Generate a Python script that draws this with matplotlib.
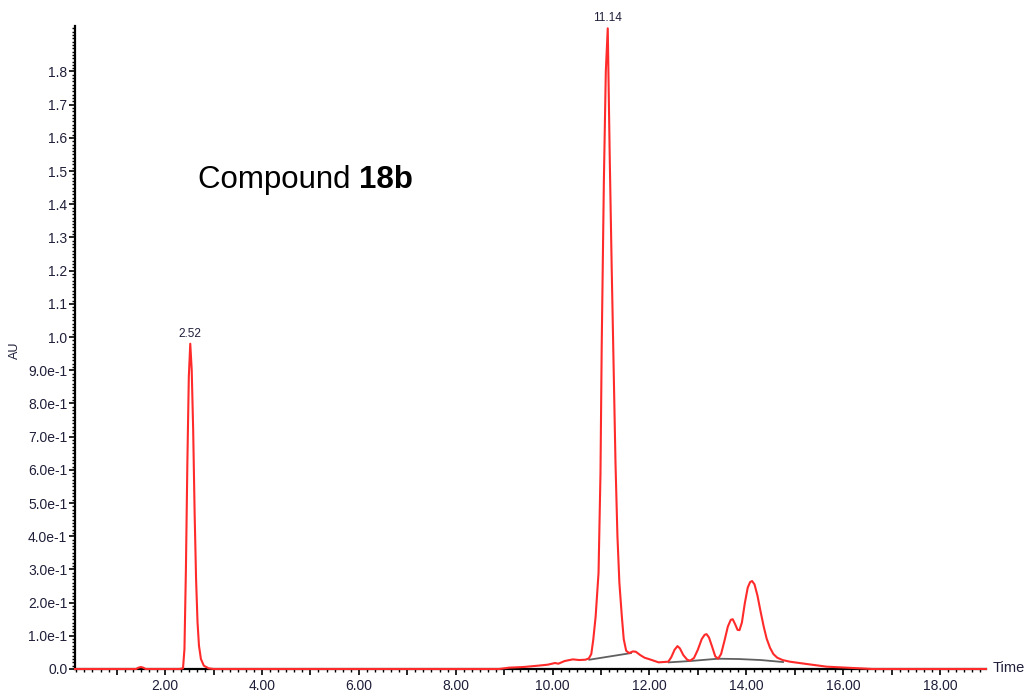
import matplotlib
matplotlib.use("Agg")
import matplotlib.pyplot as plt
from matplotlib.ticker import FixedLocator, MultipleLocator, FuncFormatter
import numpy as np

plt.rcParams['font.family'] = ['Liberation Sans', 'DejaVu Sans']

# chromatogram trace (time in min, absorbance in AU)
temps = [0.14, 1.40, 1.45, 1.50, 1.55, 1.60, 2.30, 2.37, 2.40, 2.43, 2.46, 2.49, 2.52,
         2.55, 2.58, 2.61, 2.64, 2.67, 2.70, 2.74, 2.80, 2.90, 3.00, 8.90, 9.10, 9.40,
         9.70, 9.90, 10.05, 10.12, 10.25, 10.42, 10.55, 10.68, 10.75, 10.80, 10.84, 10.89,
         10.95, 10.99, 11.015, 11.06, 11.10, 11.14, 11.18, 11.22, 11.26, 11.30, 11.34,
         11.38, 11.43, 11.47, 11.52, 11.58, 11.66, 11.72, 11.81, 11.90, 12.01, 12.19,
         12.39, 12.45, 12.52, 12.58, 12.63, 12.70, 12.78, 12.84, 12.92, 13.00, 13.08,
         13.14, 13.18, 13.23, 13.30, 13.36, 13.42, 13.48, 13.55, 13.62, 13.68, 13.72,
         13.77, 13.82, 13.86, 13.91, 13.97, 14.03, 14.08, 14.12, 14.17, 14.23, 14.30,
         14.36, 14.42, 14.49, 14.56, 14.64, 14.75, 14.90, 15.25, 15.66, 16.07, 16.35,
         16.60, 18.95]
absorbance = [0.0, 0.0, 0.004, 0.006, 0.004, 0.0, 0.0, 0.002, 0.06, 0.30, 0.62, 0.88, 0.98,
              0.90, 0.72, 0.47, 0.27, 0.14, 0.07, 0.03, 0.01, 0.002, 0.0, 0.0, 0.004, 0.006,
              0.010, 0.013, 0.018, 0.016, 0.024, 0.029, 0.027, 0.028, 0.032, 0.045, 0.087, 0.158,
              0.29, 0.59, 0.97, 1.47, 1.80, 1.93, 1.55, 1.22, 0.92, 0.62, 0.40,
              0.26, 0.16, 0.09, 0.055, 0.048, 0.053, 0.052, 0.042, 0.034, 0.029, 0.020,
              0.022, 0.035, 0.058, 0.069, 0.062, 0.042, 0.028, 0.025, 0.033, 0.058, 0.090,
              0.103, 0.105, 0.095, 0.065, 0.038, 0.031, 0.045, 0.085, 0.128, 0.148, 0.150,
              0.135, 0.118, 0.117, 0.140, 0.198, 0.245, 0.262, 0.265, 0.255, 0.222, 0.170,
              0.128, 0.092, 0.064, 0.045, 0.034, 0.027, 0.022, 0.015, 0.007, 0.004, 0.002,
              0.0, 0.0]

# integration baselines
base1_t = [10.76, 11.62]
base1_au = [0.028, 0.048]
base2_t = [12.40, 12.84, 13.42, 13.85, 14.30, 14.76]
base2_au = [0.020, 0.024, 0.031, 0.030, 0.027, 0.021]

# labelled peaks
pic_t = [2.52, 11.14]
pic_au = [0.98, 1.93]
pic_txt = ["2.52", "11.14"]

W, H = 1027, 693
fig = plt.figure(figsize=(W / 100, H / 100), dpi=100)
ax = fig.add_axes([75 / W, 1 - 669 / H, (986 - 75) / W, (669 - 26) / H])

ax.plot(base1_t, base1_au, color='#606060', lw=1.3, zorder=2)
ax.plot(base2_t, base2_au, color='#606060', lw=1.3, zorder=2)
ax.plot(temps, absorbance, color='#ff2a2a', lw=1.5, zorder=3, clip_on=False,
        solid_joinstyle='round')

for t, a, s in zip(pic_t, pic_au, pic_txt):
    ax.annotate(s, (t, a), xytext=(0, 3), textcoords='offset points',
                ha='center', va='bottom', fontsize=8.5, color='#1f1f3a')

ax.set_xlim(0.14, 18.95)
ax.set_ylim(0, 1.937)

for cote in ['top', 'right']:
    ax.spines[cote].set_visible(False)
for cote in ['left', 'bottom']:
    ax.spines[cote].set_linewidth(1.6)
    ax.spines[cote].set_color('black')

# x axis: labels every 2 min
ax.xaxis.set_major_locator(MultipleLocator(1))
ax.xaxis.set_minor_locator(MultipleLocator(1 / 6))
ax.xaxis.set_major_formatter(FuncFormatter(lambda v, p: "%.2f" % v if round(v) % 2 == 0 else ""))

# y axis
def format_y(v, p):
    if abs(v) < 1e-9:
        return "0.0"
    if v < 0.95:
        return "%.1fe-1" % (v * 10)
    return "%.1f" % v

ax.yaxis.set_major_locator(FixedLocator(np.round(np.arange(0, 1.85, 0.1), 2)))
ax.yaxis.set_minor_locator(MultipleLocator(0.01))
ax.yaxis.set_major_formatter(FuncFormatter(format_y))

ax.tick_params(axis='both', which='major', direction='out', width=1.2, length=4.5,
               labelsize=10, labelcolor='#1f1f3a', pad=1)
ax.tick_params(axis='both', which='minor', direction='out', width=1.0, length=2.2)
ax.tick_params(axis='x', which='major', pad=3)

fig.text(15 / W, 1 - 350 / H, "AU", rotation=90, ha='center', va='center',
         fontsize=9, color='#1f1f3a')
fig.text(993 / W, 1 - 668 / H, "Time", ha='left', va='center', fontsize=10.5, color='#1f1f3a')

# title: regular word followed by the bold compound number
titre = fig.text(198 / W, 1 - 180 / H, "Compound ", ha='left', va='center', fontsize=22.5)
fig.canvas.draw()
bb = titre.get_window_extent()
fig.text(bb.x1 / W, 1 - 180 / H, "18b", ha='left', va='center', fontsize=22.5,
         fontweight='bold')

fig.savefig("out.png", dpi=100)
